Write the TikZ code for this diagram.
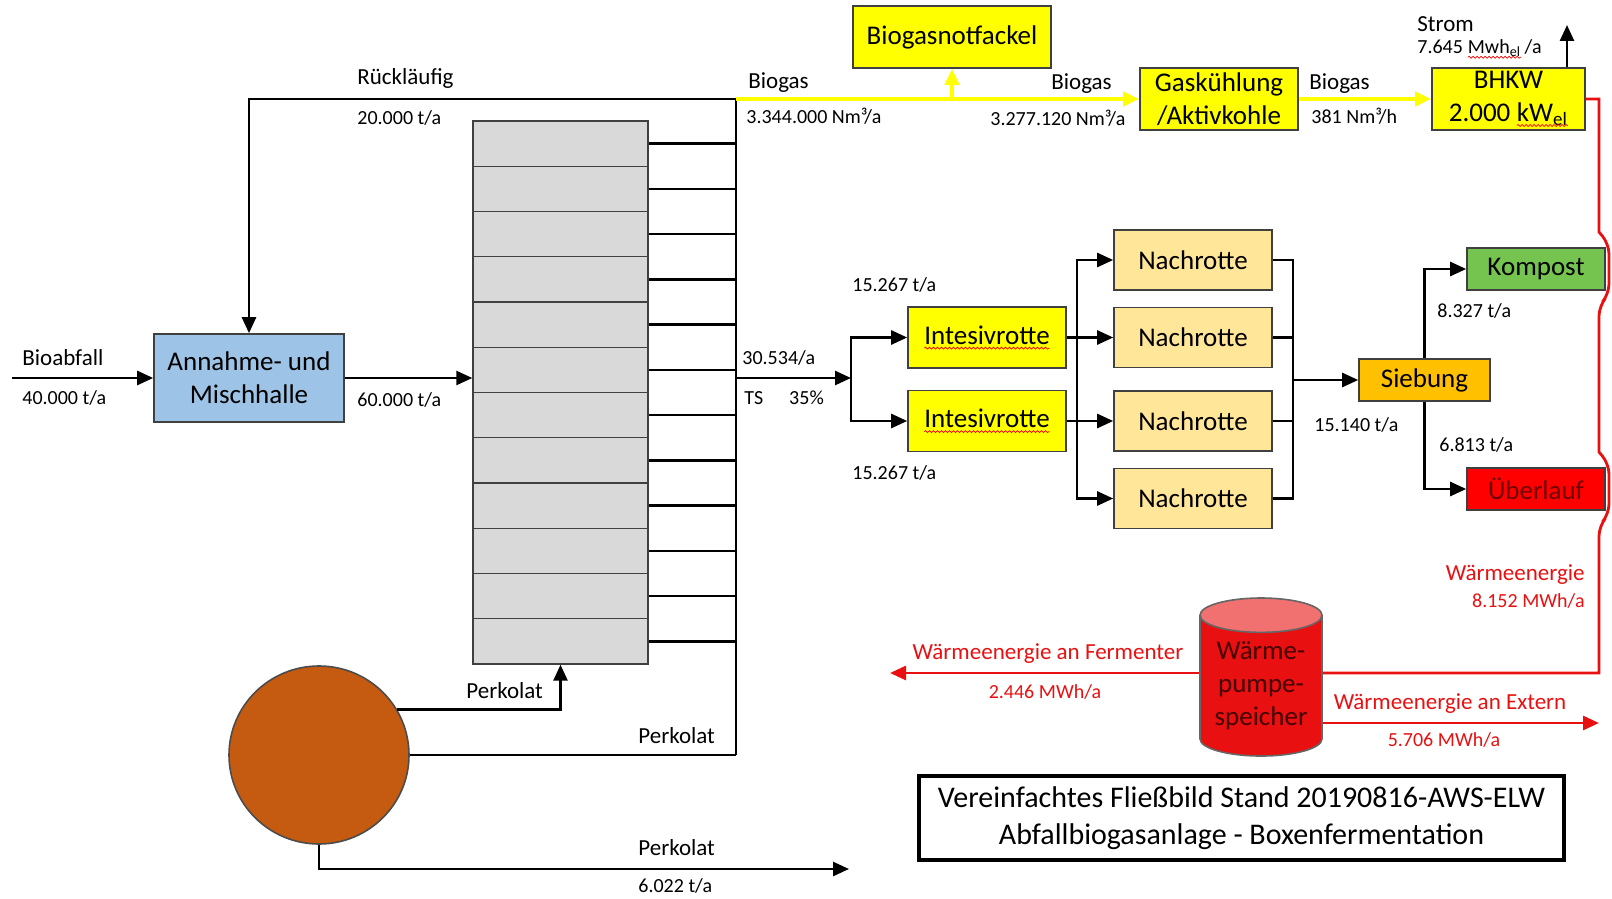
\documentclass[tikz,border=0pt]{standalone}
\usepackage{fontspec}
\setmainfont{Carlito}
\usetikzlibrary{arrows.meta,shapes.geometric,decorations.pathmorphing}

\definecolor{hallblue}{RGB}{157,195,230}
\definecolor{gasyellow}{RGB}{255,255,0}
\definecolor{postbeige}{RGB}{255,230,153}
\definecolor{sieveorange}{RGB}{255,192,0}
\definecolor{compgreen}{RGB}{118,196,80}
\definecolor{overred}{RGB}{255,0,0}
\definecolor{overtext}{RGB}{110,0,0}
\definecolor{heatred}{RGB}{232,16,16}
\definecolor{tankbrown}{RGB}{197,90,17}
\definecolor{tanktext}{RGB}{70,0,0}
\definecolor{cellgray}{RGB}{217,217,217}

% rote Wellenlinie der Rechtschreibpruefung
\newcommand{\spell}[1]{\tikz[baseline=(sp.base),x=1pt,y=1pt]{\node[inner sep=0pt,outer sep=0pt,
    minimum width=0pt,minimum height=0pt,draw=none,fill=none] (sp) {#1};
  \draw[red,line width=0.35pt,decorate,decoration={snake,amplitude=0.5pt,segment length=2pt}]
    ([yshift=-2pt]sp.base west) -- ([yshift=-2pt]sp.base east);}}

\begin{document}
\begin{tikzpicture}[x=0.5pt,y=-0.5pt,
    >={Triangle[length=8pt,width=7pt]},
    flow/.style={line width=1.3pt},
    gas/.style={draw=gasyellow,line width=2pt},
    heat/.style={draw=heatred,line width=1.4pt},
    box/.style={draw=black!75,line width=0.8pt,inner sep=0pt,align=center,
      font=\fontsize{13.5}{16.5}\selectfont},
    cell/.style={draw=black!75,fill=cellgray,line width=0.7pt,inner sep=0pt,
      minimum width=87.5pt,minimum height=22.625pt},
    lbl/.style={inner sep=0pt,font=\fontsize{11.5}{14}\selectfont},
    val/.style={inner sep=0pt,font=\fontsize{10}{12}\selectfont},
    hlbl/.style={lbl,text=heatred},
    hval/.style={val,text=heatred}]
  \useasboundingbox (0,0) rectangle (1612,899);

  % Annahme und Boxenfermenter
  \node[box,fill=hallblue,minimum width=95pt,minimum height=44pt] (hall) at (249,378) {Annahme- und\\Mischhalle};
  \coordinate (colT) at (736,99);
  \coordinate (colB) at (736,755);
  \foreach \i in {0,...,11}{
    \node[cell] (f\i) at (560.5,{121+45.25*(\i+0.5)}) {};
    \draw[flow] (f\i.east) -- (f\i.east -| colT);
  }
  \draw[flow] (colT) -- (colB);

  \coordinate (in) at (12,378);
  \draw[flow,->] (in) -- (hall.west);
  \node[lbl,anchor=west] (bio) at (22,358) {Bioabfall};
  \node[val,anchor=west] (bioT) at (22,398) {40.000 t/a};
  \draw[flow,->] (hall.east) -- (hall.east -| f5.west);
  \node[val,anchor=west] (mixT) at (357,400) {60.000 t/a};
  \draw[flow,->] (colT) -| (hall.north);
  \node[lbl,anchor=west] (back) at (357,78) {Rückläufig};
  \node[val,anchor=west] (backT) at (357,118) {20.000 t/a};

  % Biogas
  \node[box,fill=gasyellow,minimum width=99pt,minimum height=31pt] (flare) at (952,37) {Biogasnotfackel};
  \node[box,fill=gasyellow,minimum width=79pt,minimum height=31pt] (cool) at (1219,99) {Gaskühlung\\/Aktivkohle};
  \node[box,fill=gasyellow,minimum width=76.5pt,minimum height=31pt] (chp) at (1508.5,99) {BHKW\\2.000 \spell{kW\textsubscript{el}}};
  \draw[gas,->] (colT) -- (cool.west);
  \draw[gas,->] (flare.south |- colT) -- (flare.south);
  \draw[gas,->] (cool.east) -- (chp.west);
  \node[lbl,anchor=west] (gas1) at (748,83) {Biogas};
  \node[val,anchor=west] (gas1T) at (746,116) {3.344.000 Nm³/a};
  \node[lbl,anchor=west] (gas2) at (1051,84) {Biogas};
  \node[val,anchor=west] (gas2T) at (990,118) {3.277.120 Nm³/a};
  \node[lbl,anchor=west] (gas3) at (1309,84) {Biogas};
  \node[val,anchor=west] (gas3T) at (1311,116) {381 Nm³/h};
  \coordinate (power) at (1567,25);
  \draw[flow,->] (chp.north -| power) -- (power);
  \node[lbl,anchor=west] (strom) at (1417,24) {Strom};
  \node[val,anchor=west] (stromT) at (1417,49) {7.645 \spell{Mwh\textsubscript{el}}\,/a};

  % Rotte und Siebung
  \coordinate (split) at (851,378);
  \draw[flow,->] (split -| colT) -- (split);
  \node[val,anchor=west] (dry) at (742,358) {30.534/a};
  \node[val,anchor=west] (ts) at (744,398) {TS\hspace{1.3em}35\%};
  \node[box,fill=gasyellow,minimum width=79pt,minimum height=30.5pt] (int1) at (987,337.5) {\spell{Intesivrotte}};
  \node[box,fill=gasyellow,minimum width=79pt,minimum height=30.5pt] (int2) at (987,421) {\spell{Intesivrotte}};
  \draw[flow,->] (split) |- (int1.west);
  \draw[flow,->] (split) |- (int2.west);
  \node[val,anchor=west] (int1T) at (852,285) {15.267 t/a};
  \node[val,anchor=west] (int2T) at (852,473) {15.267 t/a};

  \node[box,fill=postbeige,minimum width=79pt,minimum height=30pt] (post1) at (1193,260) {Nachrotte};
  \node[box,fill=postbeige,minimum width=79pt,minimum height=30pt] (post2) at (1193,337.5) {Nachrotte};
  \node[box,fill=postbeige,minimum width=79pt,minimum height=30pt] (post3) at (1193,421) {Nachrotte};
  \node[box,fill=postbeige,minimum width=79pt,minimum height=30pt] (post4) at (1193,498.5) {Nachrotte};
  \coordinate (fork) at (1077,380);
  \draw[flow,<->] (post1.west) -| (fork) |- (post4.west);
  \draw[flow,->] (int1.east) -- (post2.west);
  \draw[flow,->] (int2.east) -- (post3.west);
  \coordinate (join) at (1293,380);
  \draw[flow] (post1.east) -| (join) |- (post4.east);
  \draw[flow] (post2.east) -- (post2.east -| join);
  \draw[flow] (post3.east) -- (post3.east -| join);

  \node[box,fill=sieveorange,minimum width=65.5pt,minimum height=21pt] (sieve) at (1424.5,380) {Siebung};
  \draw[flow,->] (join) -- (sieve.west);
  \node[val,anchor=west] (sieveT) at (1314,425) {15.140 t/a};
  \node[box,fill=compgreen,minimum width=69pt,minimum height=21pt] (comp) at (1536,269) {Kompost};
  \node[box,fill=overred,text=overtext,minimum width=69pt,minimum height=21pt] (over) at (1536,489) {Überlauf};
  \draw[flow,->] (sieve.north) |- (comp.west);
  \draw[flow,->] (sieve.south) |- (over.west);
  \node[val,anchor=west] (compT) at (1437,311) {8.327 t/a};
  \node[val,anchor=west] (overT) at (1439,445) {6.813 t/a};

  % Waerme
  \node[cylinder,shape border rotate=90,aspect=0.37,draw=black!60,line width=0.8pt,
    cylinder uses custom fill,cylinder body fill=heatred,cylinder end fill=heatred!60,
    minimum width=61pt,minimum height=79pt,inner sep=0pt,align=center,
    font=\fontsize{13.5}{16.5}\selectfont,text=tanktext] (store) at (1261,686) {Wärme-\\pumpe-\\speicher};
  \coordinate (ret) at (1599,673);
  \coordinate (ferm) at (890,673);
  \coordinate (ext) at (1599,723);
  \draw[heat] (chp.east) -- (chp.east -| ret) -- (1599,232) [rounded corners=5pt] -- (1609,244) -- (1609,294) -- (1599,306)
    [sharp corners] -- (1599,452) [rounded corners=5pt] -- (1609,464) -- (1609,514) -- (1599,526)
    [sharp corners] -- (ret) -- (store.east |- ret);
  \draw[heat,->] (store.west |- ferm) -- (ferm);
  \draw[heat,->] (store.east |- ext) -- (ext);
  \node[hlbl,anchor=east] (heatIn) at (1585,575) {Wärmeenergie};
  \node[hval,anchor=east] (heatInT) at (1585,601) {8.152 MWh/a};
  \node[hlbl] (heatF) at (1048,654) {Wärmeenergie an Fermenter};
  \node[hval] (heatFT) at (1045,692) {2.446 MWh/a};
  \node[hlbl] (heatE) at (1450,704) {Wärmeenergie an Extern};
  \node[hval] (heatET) at (1444,740) {5.706 MWh/a};

  % Perkolat
  \node[ellipse,draw=black!70,line width=0.8pt,fill=tankbrown,minimum width=90pt,minimum height=89pt,inner sep=0pt] (tank) at (319,755) {};
  \draw[flow,->] (tank.30) -| (f11.south);
  \draw[flow] (tank.east) -- (tank.east -| colB);
  \coordinate (pout) at (849,869);
  \draw[flow,->] (tank.south) |- (pout);
  \node[lbl,anchor=west] (perk1) at (466,691) {Perkolat};
  \node[lbl,anchor=west] (perk2) at (638,736) {Perkolat};
  \node[lbl,anchor=west] (perk3) at (638,848) {Perkolat};
  \node[val,anchor=west] (perk3T) at (638,886) {6.022 t/a};

  % Titel
  \node[draw,line width=2pt,minimum width=322.5pt,minimum height=42pt,align=center,
    font=\fontsize{15}{18.5}\selectfont] (title) at (1241.5,818) {Vereinfachtes Fließbild Stand 20190816-AWS-ELW\\Abfallbiogasanlage - Boxenfermentation};
\end{tikzpicture}
\end{document}
